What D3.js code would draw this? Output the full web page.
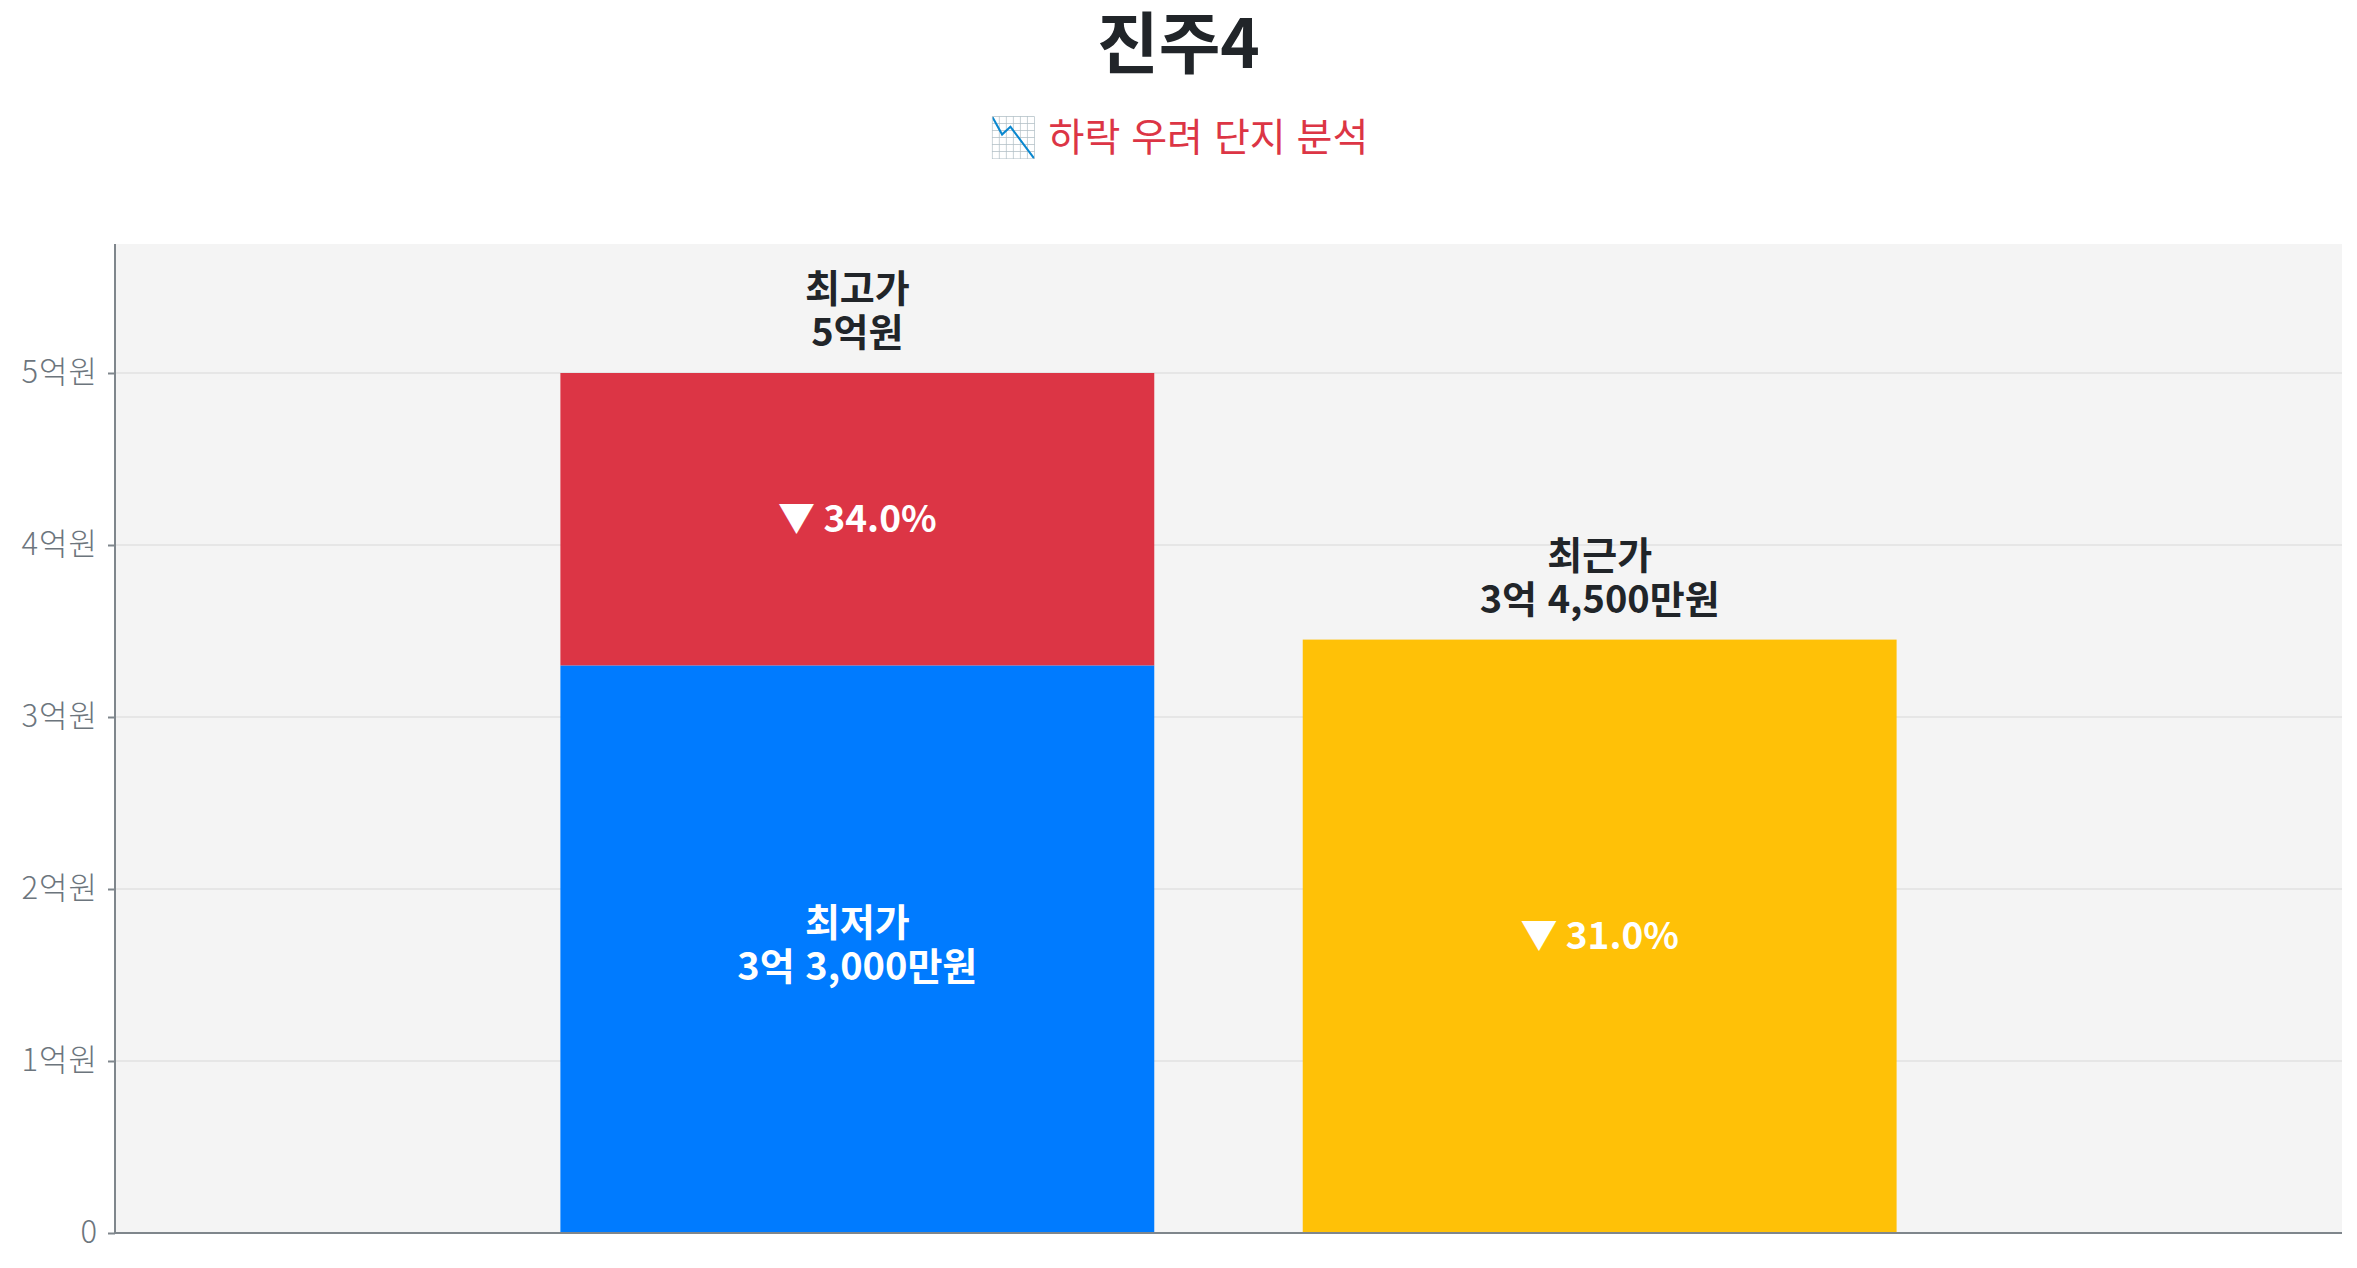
<!DOCTYPE html>
<html lang="ko">
<head>
  <meta charset="UTF-8">
  <title>진주4</title>
  <script src="https://d3js.org/d3.v7.min.js"></script>
  <style>
    html, body { margin: 0; padding: 0; background: #fff; }
    svg { display: block; font-family: "Noto Sans CJK KR", "Noto Sans", sans-serif; }
  </style>
</head>
<body>
  <svg id="svg" width="2357" height="1268"></svg>
  <script>
    // values in 억원
    var title = "진주4";
    var subtitle = "📉 하락 우려 단지 분석";
    var barKeys = ["range", "recent"];
    var highLabel = "최고가", lowLabel = "최저가", recentLabel = "최근가";
    var highValue = 5.0, lowValue = 3.3, recentValue = 3.45;
    var highText = "5억원", lowText = "3억 3,000만원", recentText = "3억 4,500만원";
    var yTicks = [0, 1, 2, 3, 4, 5];
    var yTickLabels = ["0", "1억원", "2억원", "3억원", "4억원", "5억원"];

    var colors = { high: "#dc3545", low: "#007bff", recent: "#ffc107" };

    var svg = d3.select("svg"),
      width = +svg.attr("width"),
      height = +svg.attr("height"),
      margin = { top: 244, right: 15, bottom: 35, left: 115 };

    var x = d3.scaleBand()
      .domain(barKeys)
      .range([margin.left, width - margin.right])
      .paddingInner(0.2)
      .paddingOuter(0.6);

    var y = d3.scaleLinear()
      .domain([0, highValue * 1.15])
      .range([height - margin.bottom, margin.top]);

    // titles
    svg.append("text")
      .attr("x", width / 2)
      .attr("y", 68)
      .attr("text-anchor", "middle")
      .attr("font-size", 67)
      .attr("font-weight", 700)
      .attr("fill", "#212529")
      .text(title);

    svg.append("text")
      .attr("x", width / 2)
      .attr("y", 151)
      .attr("text-anchor", "middle")
      .attr("font-size", 39)
      .attr("fill", "#dc3545")
      .text(subtitle);

    // plot background
    svg.append("rect")
      .attr("x", margin.left)
      .attr("y", margin.top)
      .attr("width", width - margin.left - margin.right)
      .attr("height", height - margin.top - margin.bottom)
      .attr("fill", "#f4f4f4");

    // grid
    svg.append("g")
      .selectAll("line")
      .data(yTicks.slice(1))
      .enter().append("line")
      .attr("x1", margin.left)
      .attr("x2", width - margin.right)
      .attr("y1", function (d) { return y(d); })
      .attr("y2", function (d) { return y(d); })
      .attr("stroke", "#e6e6e6")
      .attr("stroke-width", 2);

    // bars
    var segments = [
      { key: "range", y0: 0, y1: lowValue, color: colors.low },
      { key: "range", y0: lowValue, y1: highValue, color: colors.high },
      { key: "recent", y0: 0, y1: recentValue, color: colors.recent }
    ];

    svg.append("g")
      .selectAll("rect")
      .data(segments)
      .enter().append("rect")
      .attr("x", function (d) { return x(d.key); })
      .attr("width", x.bandwidth())
      .attr("y", function (d) { return y(d.y1); })
      .attr("height", function (d) { return y(d.y0) - y(d.y1); })
      .attr("fill", function (d) { return d.color; });

    // axes
    var yAxis = svg.append("g")
      .attr("transform", "translate(" + margin.left + ",0)")
      .call(d3.axisLeft(y)
        .tickValues(yTicks)
        .tickSize(7)
        .tickPadding(10)
        .tickFormat(function (d, i) { return yTickLabels[i]; }));
    yAxis.select(".domain").remove();
    yAxis.selectAll(".tick line").attr("stroke", "#7f868c").attr("stroke-width", 2);
    yAxis.selectAll(".tick text")
      .attr("font-size", 31)
      .attr("font-weight", 300)
      .attr("letter-spacing", 1)
      .attr("font-family", "\"Noto Sans CJK KR\", sans-serif")
      .attr("fill", "#6c757d");

    svg.append("line")
      .attr("x1", margin.left).attr("x2", margin.left)
      .attr("y1", margin.top).attr("y2", y(0))
      .attr("stroke", "#7f868c").attr("stroke-width", 2);
    svg.append("line")
      .attr("x1", margin.left).attr("x2", width - margin.right)
      .attr("y1", y(0)).attr("y2", y(0))
      .attr("stroke", "#7f868c").attr("stroke-width", 2);

    var lineGap = 44, fs = 38;
    var cx = function (k) { return x(k) + x.bandwidth() / 2; };

    function twoLines(px, baseY, l1, l2, fill) {
      var g = svg.append("g")
        .attr("text-anchor", "middle")
        .attr("font-size", fs)
        .attr("font-weight", 700)
        .attr("fill", fill);
      g.append("text").attr("x", px).attr("y", baseY - lineGap).text(l1);
      g.append("text").attr("x", px).attr("y", baseY).text(l2);
    }

    // labels above bars
    twoLines(cx("range"), y(highValue) - 27, highLabel, highText, "#212529");
    twoLines(cx("recent"), y(recentValue) - 27, recentLabel, recentText, "#212529");
    // label inside the blue segment
    twoLines(cx("range"), (y(0) + y(lowValue)) / 2 + 31, lowLabel, lowText, "#ffffff");

    // drop percentages
    var fmt = d3.format(".1f");
    var drops = [
      { key: "range", v: (highValue - lowValue) / highValue * 100, ym: (y(lowValue) + y(highValue)) / 2 },
      { key: "recent", v: (highValue - recentValue) / highValue * 100, ym: (y(0) + y(recentValue)) / 2 }
    ];
    svg.append("g")
      .selectAll("text")
      .data(drops)
      .enter().append("text")
      .attr("x", function (d) { return cx(d.key); })
      .attr("y", function (d) { return d.ym; })
      .attr("dy", "0.35em")
      .attr("text-anchor", "middle")
      .attr("font-size", 37)
      .attr("font-weight", 700)
      .attr("fill", "#ffffff")
      .text(function (d) { return "▼ " + fmt(d.v) + "%"; });
  </script>
</body>
</html>
